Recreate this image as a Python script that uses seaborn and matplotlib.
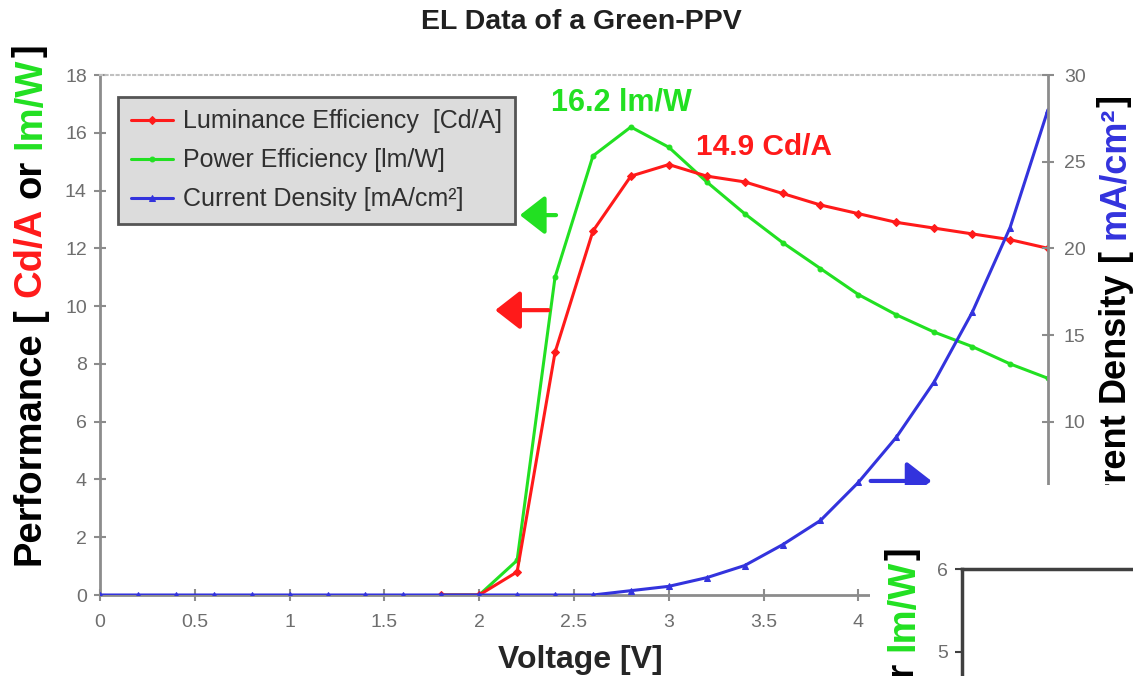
import matplotlib
matplotlib.use('Agg')
import matplotlib.pyplot as plt
import seaborn as sns
import numpy as np
from matplotlib.patches import Rectangle

# data (voltage steps of 0.2 V)
voltage = [0.0, 0.2, 0.4, 0.6, 0.8, 1.0, 1.2, 1.4, 1.6, 1.8, 2.0, 2.2, 2.4,
           2.6, 2.8, 3.0, 3.2, 3.4, 3.6, 3.8, 4.0, 4.2, 4.4, 4.6, 4.8, 5.0]
current_density = [0, 0, 0, 0, 0, 0, 0, 0, 0, 0, 0, 0, 0,
                   0, 0.25, 0.5, 1.0, 1.7, 2.9, 4.3, 6.5, 9.1, 12.3, 16.3, 21.2, 28.0]

voltage_el = [1.8, 2.0, 2.2, 2.4, 2.6, 2.8, 3.0, 3.2, 3.4, 3.6, 3.8, 4.0,
              4.2, 4.4, 4.6, 4.8, 5.0]
luminance_eff = [0, 0, 0.8, 8.4, 12.6, 14.5, 14.9, 14.5, 14.3, 13.9, 13.5,
                 13.2, 12.9, 12.7, 12.5, 12.3, 12.0]
power_eff = [0, 0, 1.2, 11.0, 15.2, 16.2, 15.5, 14.3, 13.2, 12.2, 11.3,
             10.4, 9.7, 9.1, 8.6, 8.0, 7.5]

legend_labels = ['Luminance Efficiency  [Cd/A]', 'Power Efficiency [lm/W]',
                 'Current Density [mA/cm\u00b2]']

sns.set_style('ticks')
plt.rcParams['font.family'] = ['Liberation Sans', 'DejaVu Sans']

red = '#ff1a1a'
green = '#22e022'
blue = '#3333dd'
axis_gray = '#8c8c8c'
tick_gray = '#6e6e6e'

W, H = 1133, 676
fig = plt.figure(figsize=(W / 100, H / 100), dpi=100)
ax = fig.add_axes([100 / W, 81 / H, 948 / W, 520 / H])
ax2 = ax.twinx()

sns.lineplot(x=voltage_el, y=power_eff, ax=ax, color=green, marker='o',
             markersize=3.5, markeredgecolor=green, lw=2.2, legend=False)
sns.lineplot(x=voltage_el, y=luminance_eff, ax=ax, color=red, marker='D',
             markersize=4, markeredgecolor=red, lw=2.2, legend=False)
sns.lineplot(x=voltage, y=current_density, ax=ax2, color=blue, marker='^',
             markersize=5, markeredgecolor=blue, lw=2.2, legend=False)

ax.set_xlim(0, 5)
ax.set_ylim(0, 18)
ax2.set_ylim(0, 30)
xt = np.arange(0, 5.01, 0.5)
ax.set_xticks(xt)
ax.set_xticklabels([f'{v:g}' for v in xt])
ax.set_yticks(range(0, 19, 2))
ax2.set_yticks(range(0, 31, 5))
ax.set_ylabel('')
ax2.set_ylabel('')

for s in ['left', 'bottom']:
    ax.spines[s].set_color(axis_gray)
    ax.spines[s].set_linewidth(2)
ax.spines['top'].set_visible(True)
ax.spines['top'].set_color('#c0c0c0')
ax.spines['top'].set_linestyle(':')
ax.spines['top'].set_linewidth(1.5)
ax.spines['right'].set_visible(False)
for s in ['left', 'bottom', 'top']:
    ax2.spines[s].set_visible(False)
ax2.spines['right'].set_visible(True)
ax2.spines['right'].set_color(axis_gray)
ax2.spines['right'].set_linewidth(2)

ax.tick_params(axis='both', direction='inout', length=9, width=1.5,
               color=axis_gray, labelcolor=tick_gray, labelsize=14)
ax.tick_params(axis='x', pad=9)
ax.tick_params(axis='y', pad=5)
ax2.tick_params(axis='y', direction='inout', length=9, width=1.5,
                color=axis_gray, labelcolor=tick_gray, labelsize=14, pad=7)

ax.set_xlabel('Voltage [V]', fontsize=23, fontweight='bold')
ax.xaxis.set_label_coords(0.507, -0.14)
ax.xaxis.label.set_va('baseline')

# legend
handles = [ax.lines[1], ax.lines[0], ax2.lines[0]]
leg = ax.legend(handles, legend_labels, loc='upper left',
                bbox_to_anchor=(0.019, 0.958), borderaxespad=0, fontsize=18,
                frameon=True, fancybox=False, handlelength=1.7,
                handletextpad=0.4, labelspacing=0.6, borderpad=0.5)
leg.get_frame().set_facecolor('#dcdcdc')
leg.get_frame().set_edgecolor('#555555')
leg.get_frame().set_linewidth(2)
leg.get_frame().set_alpha(1)
for t in leg.get_texts():
    t.set_color('#303030')
leg.set_zorder(10)

# peak annotations
ax.text(2.75, 17.05, '16.2 lm/W', color=green, fontsize=22, fontweight='bold',
        ha='center', va='center')
ax.text(3.5, 15.5, '14.9 Cd/A', color=red, fontsize=21.5, fontweight='bold',
        ha='center', va='center')

arrow = '-|>,head_length=0.9,head_width=0.7'
ax.annotate('', xy=(2.2, 13.15), xytext=(2.42, 13.15),
            arrowprops=dict(arrowstyle=arrow, color=green, lw=3, mutation_scale=17))
ax.annotate('', xy=(2.07, 9.86), xytext=(2.38, 9.86),
            arrowprops=dict(arrowstyle=arrow, color=red, lw=3, mutation_scale=17))
ax2.annotate('', xy=(4.4, 6.58), xytext=(4.05, 6.58),
             arrowprops=dict(arrowstyle=arrow, color=blue, lw=3, mutation_scale=17))

fig.text(581 / W, 1 - 22 / H, 'EL Data of a Green-PPV', fontsize=20.5,
         fontweight='bold', ha='center', va='center', color='#202020')

fig.canvas.draw()
renderer = fig.canvas.get_renderer()


def text_width(s, size):
    t = fig.text(0, 0, s, fontsize=size, fontweight='bold')
    w = t.get_window_extent(renderer).width
    t.remove()
    return w


def vertical_label(pieces, x_px, y_px, size, anchor='bottom', zorder=3):
    # multi-coloured text reading bottom to top, y_px measured from bottom
    space = text_width('H H', size) - text_width('HH', size)
    lengths = [space if s == ' ' else text_width(s, size) for s, c in pieces]
    y = y_px if anchor == 'bottom' else y_px - sum(lengths)
    for (s, c), L in zip(pieces, lengths):
        if s != ' ':
            fig.text(x_px / W, y / H, s, color=c, fontsize=size,
                     fontweight='bold', rotation=90, rotation_mode='anchor',
                     ha='left', va='baseline', zorder=zorder)
        y += L


vertical_label([('Performance', 'black'), (' ', None), ('[', 'black'),
                (' ', None), ('Cd/A', red), (' ', None), ('or', 'black'),
                (' ', None), ('lm/W', green), (']', 'black')],
               40, H - 565, 27.5)
vertical_label([('Current', 'black'), (' ', None), ('Density', 'black'),
                (' ', None), ('[', 'black'), (' ', None),
                ('mA/cm\u00b2', blue), (']', 'black')],
               1124, H - 95, 26, anchor='top')

# white patch with the corner of a second chart on top of it
fig.add_artist(Rectangle((870 / W, 0), 1 - 870 / W, (H - 485) / H,
                         transform=fig.transFigure, facecolor='white',
                         edgecolor='none', zorder=5))
ax3 = fig.add_axes([962 / W, -0.05, (W - 962 + 20) / W, (H - 569) / H + 0.05],
                   zorder=6)
ax3.set_facecolor('none')
ax3.set_ylim(4.30, 6)
ax3.set_xlim(0, 1)
ax3.set_yticks([5, 6])
ax3.set_xticks([])
for s in ['right', 'bottom']:
    ax3.spines[s].set_visible(False)
for s in ['left', 'top']:
    ax3.spines[s].set_visible(True)
    ax3.spines[s].set_color('#404040')
    ax3.spines[s].set_linewidth(2.5)
ax3.tick_params(axis='y', direction='out', length=5, width=1.5, color='#404040',
                labelcolor=tick_gray, labelsize=14, pad=5)
vertical_label([('or', 'black'), (' ', None), ('lm/W', green), (']', 'black')],
               913, H - 547, 27.5, anchor='top', zorder=7)

fig.savefig('out.png', dpi=100)
